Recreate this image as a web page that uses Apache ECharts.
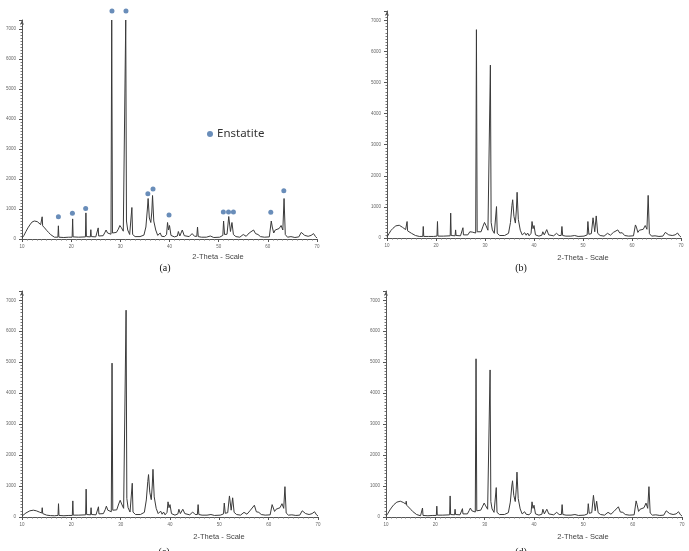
<!DOCTYPE html>
<html>
<head>
<meta charset="utf-8">
<title>XRD patterns</title>
<script src="https://cdn.jsdelivr.net/npm/echarts@6/dist/echarts.min.js"></script>
<style>
  html, body { margin: 0; padding: 0; background: #ffffff; }
  #chart { width: 689px; height: 551px; }
</style>
</head>
<body>
<div id="chart"></div>
<script>
// ---- data: [2-theta, intensity] ----
const sampleA = [[10.0,30],[10.4,120],[10.8,250],[11.2,370],[11.4,420],[11.6,470],[11.8,500],[12.0,560],[12.2,580],[12.3,610],[12.5,600],[12.6,640],[12.8,600],[12.9,620],[13.1,580],[13.2,600],[13.5,540],[13.8,480],[14.0,500],[14.1,740],[14.2,440],[14.6,370],[15.0,290],[15.4,220],[15.8,150],[16.2,90],[16.6,60],[17.0,50],[17.3,60],[17.4,440],[17.5,60],[18.5,50],[19.5,60],[20.2,60],[20.3,670],[20.4,70],[21.5,60],[22.9,70],[23.0,870],[23.1,80],[23.9,70],[24.0,310],[24.1,80],[25.0,70],[25.4,90],[25.5,370],[25.6,100],[26.5,110],[26.9,230],[27.1,300],[27.4,200],[27.7,150],[28.1,160],[28.25,7300],[28.4,200],[28.7,180],[29.2,220],[29.6,330],[29.9,450],[30.2,380],[30.6,260],[30.9,280],[31.1,7300],[31.25,600],[31.5,300],[31.9,150],[32.2,160],[32.35,1050],[32.5,150],[33.0,80],[34.0,80],[34.8,130],[35.2,400],[35.5,1000],[35.65,1350],[35.9,700],[36.2,550],[36.4,900],[36.55,1450],[36.8,600],[37.2,300],[37.6,120],[38.1,200],[38.4,90],[38.7,150],[39.0,80],[39.4,150],[39.6,550],[39.8,300],[40.0,450],[40.3,120],[41.0,70],[41.6,100],[41.8,250],[42.1,100],[42.6,300],[43.0,110],[44.0,80],[44.6,180],[45.1,90],[45.55,90],[45.7,400],[45.85,80],[46.5,60],[47.5,60],[48.3,100],[49.0,50],[50.2,60],[50.85,120],[51.0,600],[51.2,150],[51.7,160],[52.05,750],[52.4,250],[52.7,550],[53.0,150],[53.5,80],[54.3,60],[55.0,150],[55.6,90],[56.2,200],[56.6,150],[57.1,300],[57.5,180],[58.0,150],[58.5,80],[59.3,60],[60.3,70],[60.7,600],[60.9,400],[61.2,200],[61.5,300],[61.9,250],[62.3,350],[62.7,450],[63.05,300],[63.3,1350],[63.55,150],[64.0,60],[64.7,80],[65.5,50],[66.3,70],[66.8,220],[67.2,180],[67.5,120],[68.2,90],[68.8,120],[69.3,180],[69.7,80],[70.0,30]];

const sampleB = [[10.0,30],[10.4,140],[10.8,240],[11.0,290],[11.2,310],[11.4,350],[11.6,360],[11.8,390],[12.0,390],[12.2,410],[12.3,400],[12.5,410],[12.6,395],[12.8,380],[12.9,370],[13.2,340],[13.5,300],[13.8,270],[14.0,260],[14.1,530],[14.2,230],[14.6,190],[15.0,150],[15.4,110],[15.8,80],[16.2,60],[16.6,50],[17.0,50],[17.3,50],[17.4,370],[17.5,50],[18.5,50],[19.5,50],[20.2,60],[20.3,530],[20.4,60],[21.5,60],[22.9,70],[23.0,800],[23.1,80],[23.9,70],[24.0,260],[24.1,80],[25.0,70],[25.4,90],[25.5,330],[25.6,100],[26.5,100],[26.9,200],[27.1,260],[27.4,190],[27.7,140],[28.1,160],[28.25,6700],[28.4,200],[28.7,170],[29.2,200],[29.6,380],[29.9,500],[30.2,400],[30.6,250],[30.9,260],[31.1,5560],[31.25,500],[31.5,260],[31.9,150],[32.2,160],[32.35,1010],[32.5,150],[33.0,80],[34.0,80],[34.8,150],[35.2,500],[35.5,1050],[35.65,1230],[35.9,700],[36.2,480],[36.4,900],[36.55,1470],[36.8,600],[37.2,250],[37.6,100],[38.1,170],[38.4,90],[38.7,160],[39.0,70],[39.4,150],[39.6,530],[39.8,300],[40.0,400],[40.3,100],[41.0,60],[41.6,90],[41.8,200],[42.1,100],[42.6,270],[43.0,100],[44.0,70],[44.6,150],[45.1,80],[45.55,80],[45.7,370],[45.85,80],[46.5,60],[47.5,60],[48.3,80],[49.0,50],[50.2,60],[50.85,100],[51.0,530],[51.2,120],[51.7,140],[52.05,650],[52.4,200],[52.7,710],[53.0,150],[53.5,80],[54.3,60],[55.0,150],[55.6,90],[56.2,180],[56.6,130],[57.1,260],[57.5,160],[58.0,170],[58.5,80],[59.3,60],[60.3,70],[60.7,420],[60.9,350],[61.2,180],[61.5,250],[61.9,200],[62.3,280],[62.7,400],[63.05,280],[63.3,1370],[63.55,140],[64.0,60],[64.7,70],[65.5,50],[66.3,60],[66.8,180],[67.2,150],[67.5,100],[68.2,80],[68.8,100],[69.3,160],[69.7,70],[70.0,30]];

const sampleC = [[10.0,30],[10.4,80],[10.8,130],[11.2,170],[11.6,200],[12.0,215],[12.3,220],[12.6,215],[12.9,200],[13.2,180],[13.5,160],[13.8,140],[14.0,130],[14.1,300],[14.2,110],[14.6,80],[15.0,60],[15.4,50],[15.8,45],[16.2,40],[16.6,40],[17.0,40],[17.3,50],[17.4,430],[17.5,50],[18.5,40],[19.5,50],[20.2,50],[20.3,520],[20.4,60],[21.5,60],[22.9,70],[23.0,900],[23.1,80],[23.9,70],[24.0,300],[24.1,80],[25.0,70],[25.4,90],[25.5,330],[25.6,100],[26.5,110],[26.9,250],[27.1,350],[27.4,220],[27.7,160],[28.1,170],[28.25,4970],[28.4,220],[28.7,190],[29.2,230],[29.6,420],[29.9,540],[30.2,420],[30.6,280],[30.9,300],[31.1,6680],[31.25,600],[31.5,300],[31.9,160],[32.2,170],[32.35,1090],[32.5,160],[33.0,80],[34.0,80],[34.8,150],[35.2,550],[35.5,1150],[35.65,1370],[35.9,800],[36.2,560],[36.4,1000],[36.55,1540],[36.8,650],[37.2,280],[37.6,110],[38.1,190],[38.4,90],[38.7,160],[39.0,70],[39.4,150],[39.6,490],[39.8,300],[40.0,400],[40.3,110],[41.0,60],[41.6,100],[41.8,250],[42.1,110],[42.6,250],[43.0,110],[44.0,70],[44.6,160],[45.1,80],[45.55,80],[45.7,400],[45.85,80],[46.5,60],[47.5,60],[48.3,80],[49.0,50],[50.2,60],[50.85,100],[51.0,450],[51.2,120],[51.7,140],[52.05,680],[52.4,220],[52.7,620],[53.0,150],[53.5,80],[54.3,60],[55.0,150],[55.6,90],[56.2,200],[56.6,140],[57.1,380],[57.5,170],[58.0,150],[58.5,80],[59.3,60],[60.3,70],[60.7,400],[60.9,380],[61.2,180],[61.5,250],[61.9,200],[62.3,300],[62.7,430],[63.05,280],[63.3,980],[63.55,130],[64.0,60],[64.7,70],[65.5,50],[66.3,60],[66.8,200],[67.2,160],[67.5,110],[68.2,80],[68.8,110],[69.3,170],[69.7,70],[70.0,30]];

const sampleD = [[10.0,30],[10.4,120],[10.8,230],[11.0,290],[11.2,320],[11.4,370],[11.6,400],[11.8,440],[12.0,450],[12.2,480],[12.4,490],[12.6,510],[12.9,510],[13.1,490],[13.2,500],[13.5,470],[13.8,430],[14.0,420],[14.1,510],[14.2,380],[14.6,320],[15.0,250],[15.4,180],[15.8,120],[16.2,80],[16.6,50],[17.0,40],[17.3,50],[17.4,290],[17.5,50],[18.5,40],[19.5,50],[20.2,50],[20.3,350],[20.4,60],[21.5,60],[22.9,70],[23.0,680],[23.1,80],[23.9,70],[24.0,250],[24.1,80],[25.0,70],[25.4,90],[25.5,270],[25.6,100],[26.5,100],[26.9,220],[27.1,290],[27.4,200],[27.7,150],[28.1,160],[28.25,5110],[28.4,200],[28.7,180],[29.2,220],[29.6,350],[29.9,450],[30.2,360],[30.6,250],[30.9,260],[31.1,4750],[31.25,500],[31.5,260],[31.9,150],[32.2,160],[32.35,950],[32.5,150],[33.0,80],[34.0,80],[34.8,140],[35.2,480],[35.5,1000],[35.65,1170],[35.9,700],[36.2,500],[36.4,900],[36.55,1450],[36.8,600],[37.2,260],[37.6,100],[38.1,170],[38.4,90],[38.7,150],[39.0,70],[39.4,140],[39.6,490],[39.8,280],[40.0,380],[40.3,100],[41.0,60],[41.6,90],[41.8,250],[42.1,100],[42.6,250],[43.0,100],[44.0,70],[44.6,150],[45.1,80],[45.55,80],[45.7,400],[45.85,80],[46.5,60],[47.5,60],[48.3,80],[49.0,50],[50.2,60],[50.85,100],[51.0,430],[51.2,120],[51.7,140],[52.05,700],[52.4,200],[52.7,510],[53.0,140],[53.5,80],[54.3,60],[55.0,150],[55.6,90],[56.2,180],[56.6,130],[57.1,330],[57.5,160],[58.0,150],[58.5,80],[59.3,60],[60.3,70],[60.7,520],[60.9,400],[61.2,180],[61.5,250],[61.9,200],[62.3,300],[62.7,450],[63.05,280],[63.3,980],[63.55,130],[64.0,60],[64.7,70],[65.5,50],[66.3,60],[66.8,200],[67.2,160],[67.5,110],[68.2,80],[68.8,100],[69.3,170],[69.7,70],[70.0,30]];

// enstatite markers in panel (a)
const enstatiteMarks = [[28.3,7600],[31.15,7600],[17.4,745],[20.25,860],[22.95,1020],[35.6,1510],[36.65,1670],[39.9,800],[50.95,900],[52.0,900],[53.0,900],[60.6,890],[63.25,1610]];

const panelLabels = ["(a)", "(b)", "(c)", "(d)"];
const xTitle = "2-Theta - Scale";

// ---- layout of the four panels (pixels) ----
const panels = [
  { data: sampleA, left: 22,  top: 20,  width: 295, height: 219, cap: [165, 268], name: [218, 257] },
  { data: sampleB, left: 387, top: 11,  width: 294, height: 227, cap: [521, 268], name: [583, 258] },
  { data: sampleC, left: 22,  top: 291, width: 296, height: 226, cap: [164, 552], name: [219, 537] },
  { data: sampleD, left: 386, top: 291, width: 296, height: 226, cap: [521, 552], name: [583, 537] },
];

const chart = echarts.init(document.getElementById("chart"), null, { renderer: "canvas" });

const grids = [], xAxes = [], yAxes = [], series = [], graphics = [];

panels.forEach((p, i) => {
  grids.push({ left: p.left, top: p.top, width: p.width, height: p.height });

  xAxes.push({
    type: "value", gridIndex: i, min: 10, max: 70, interval: 10,
    axisLine: { lineStyle: { color: "#555", width: 1 } },
    axisTick: { length: 3, lineStyle: { color: "#555" } },
    minorTick: { show: true, splitNumber: 10, length: 1.5, lineStyle: { color: "#777" } },
    axisLabel: { fontSize: 4.5, color: "#666", margin: 5 },
    splitLine: { show: false },
  });

  yAxes.push({
    type: "value", gridIndex: i, min: 0, max: 7300, interval: 1000,
    axisLine: { show: true, symbol: ["none", "arrow"], symbolSize: [3, 5], lineStyle: { color: "#555", width: 1 } },
    axisTick: { show: true, length: 3, lineStyle: { color: "#555" } },
    minorTick: { show: true, splitNumber: 10, length: 1.5, lineStyle: { color: "#777" } },
    axisLabel: { fontSize: 4.5, color: "#666", margin: 6, showMaxLabel: false, formatter: (v) => String(v) },
    splitLine: { show: false },
  });

  series.push({
    type: "line", xAxisIndex: i, yAxisIndex: i,
    data: p.data, showSymbol: false, smooth: false,
    lineStyle: { color: "#3a3a3a", width: 1 },
    silent: true, animation: false,
  });

  // caption under each panel
  graphics.push({
    type: "text", x: p.cap[0], y: p.cap[1],
    style: { text: panelLabels[i], font: "10px 'Liberation Serif'", fill: "#111", align: "center", verticalAlign: "middle" },
  });
  // x axis title
  graphics.push({
    type: "text", x: p.name[0], y: p.name[1],
    style: { text: xTitle, font: "7.5px 'Liberation Sans'", fill: "#444", align: "center", verticalAlign: "middle" },
  });
});

// enstatite dots only in panel (a)
series.push({
  name: "Enstatite", type: "scatter", xAxisIndex: 0, yAxisIndex: 0,
  data: enstatiteMarks, symbol: "circle", symbolSize: 5, clip: false,
  itemStyle: { color: "#4470a8" }, animation: false,
});

chart.setOption({
  animation: false,
  grid: grids,
  xAxis: xAxes,
  yAxis: yAxes,
  series: series,
  legend: {
    data: ["Enstatite"], left: 202, top: 123, icon: "circle",
    itemWidth: 6, itemHeight: 6, itemGap: 4,
    textStyle: { fontFamily: "Noto Sans", fontSize: 11.5, color: "#333", padding: [0, 0, 0, -1] },
  },
  graphic: graphics,
});
</script>
</body>
</html>
